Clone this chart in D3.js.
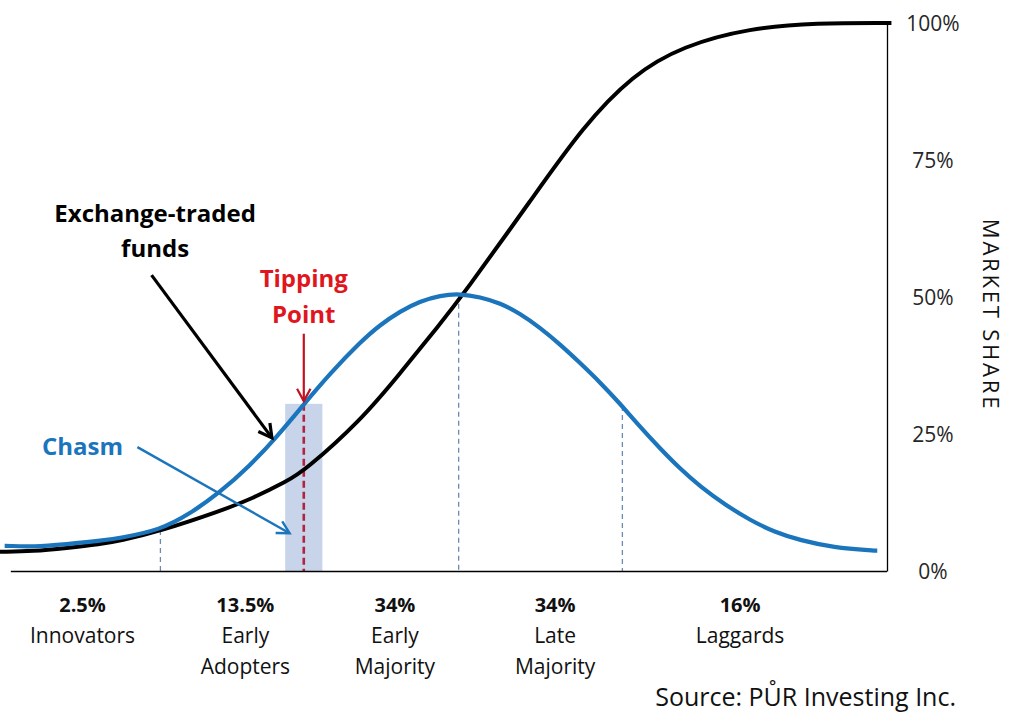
<!DOCTYPE html>
<html><head><meta charset="utf-8">
<script src="https://cdn.jsdelivr.net/npm/d3@7"></script>
<style>
html,body{margin:0;padding:0;background:#fff;}
svg{display:block;font-family:"Open Sans",Lato,sans-serif;}
</style></head>
<body>
<svg id="chart" width="1024" height="723"></svg>
<script>
// ---- data ----
// S-curve (cumulative market share, %) vs time (0..100)
const adoptionT = [-0.5, 0, 3.5, 7.3, 11.1, 13.3, 17.9, 24.6, 28.4, 32.2, 34.1, 40.5, 45.0, 49.5, 52.0, 60.0, 65.6, 71.3, 76.9, 84.5, 92.1, 100, 100.5];
const adoptionV = [3.5, 3.5, 3.6, 4.2, 4.9, 5.5, 7.3, 10.9, 13.3, 16.4, 18.2, 27.4, 36.1, 45.1, 50.2, 68.2, 81.0, 90.6, 95.8, 99.1, 100, 100, 100];
// Bell curve (adopters, %)
const bellT = [0.3, 0.6, 3.5, 7.3, 11.1, 13.3, 17.9, 21.2, 24.6, 28.0, 30.9, 34.1, 37.1, 40.5, 42.7, 45.0, 47.2, 49.5, 51.8, 54.0, 56.3, 58.5, 60.8, 63.1, 65.3, 67.6, 69.8, 72.1, 74.4, 76.6, 78.9, 81.7, 84.5, 87.3, 90.2, 93.9, 98.6, 98.9];
const bellV = [4.6, 4.6, 4.4, 4.9, 5.5, 6.0, 7.5, 10.4, 14.3, 19.2, 24.2, 30.4, 36.1, 41.8, 44.9, 47.4, 49.2, 50.3, 50.6, 50.0, 48.9, 47.0, 44.4, 41.3, 38.0, 34.4, 30.6, 26.3, 22.3, 18.7, 15.4, 12.1, 9.3, 7.1, 5.6, 4.3, 3.7, 3.7];
// segment dividers (time) and their heights on bell curve
const dividerT = [17.9, 51.6, 70.1];
const dividerV = [7.5, 50.4, 30.1];
// categories
const catShare = ["2.5%", "13.5%", "34%", "34%", "16%"];
const catName = [["Innovators"], ["Early", "Adopters"], ["Early", "Majority"], ["Late", "Majority"], ["Laggards"]];
const catCenterT = [9.1, 27.5, 44.4, 62.5, 83.4];
// y-axis ticks
const yTicks = [0, 25, 50, 75, 100];
// chasm / tipping point
const chasm = {t0: 32.0, t1: 36.2, top: 30.5};
const tippingT = 34.1;

// ---- scales ----
const svg = d3.select("#chart");
const x = d3.scaleLinear().domain([0, 100]).range([2, 887]);
const y = d3.scaleLinear().domain([0, 100]).range([571, 23]);

const BLUE = "#1b75bc";
const FONT = "'Open Sans', Lato, sans-serif";

// chasm band
svg.append("rect")
  .attr("x", x(chasm.t0)).attr("width", x(chasm.t1) - x(chasm.t0))
  .attr("y", y(chasm.top)).attr("height", y(0) - y(chasm.top))
  .attr("fill", "#c7d4e9");

// divider dashed lines
svg.selectAll("line.div").data(dividerT).join("line")
  .attr("class", "div")
  .attr("x1", d => x(d)).attr("x2", d => x(d))
  .attr("y1", (d, i) => y(dividerV[i])).attr("y2", y(0))
  .attr("stroke", "#6b8bb0").attr("stroke-width", 1.3)
  .attr("stroke-dasharray", "5,4");

// tipping point dashed line
svg.append("line")
  .attr("x1", x(tippingT)).attr("x2", x(tippingT))
  .attr("y1", y(chasm.top)).attr("y2", y(0))
  .attr("stroke", "#b3233f").attr("stroke-width", 2.6)
  .attr("stroke-dasharray", "7,4");

// axes
const baseline = d3.axisBottom(x).tickValues([]).tickSizeOuter(0);
svg.append("g").attr("transform", `translate(0,${y(0)})`).call(baseline)
  .call(g => g.select(".domain").attr("d", `M${x(1)},0.5H${x(100)}`).attr("stroke", "#000").attr("stroke-width", 1.3));

const rightAxis = d3.axisRight(y).tickValues(yTicks).tickSize(0).tickSizeOuter(0)
  .tickFormat(d => d + "%");
svg.append("g").attr("transform", `translate(${x(100)},0)`).call(rightAxis)
  .call(g => g.select(".domain").attr("stroke", "#000").attr("stroke-width", 1.3))
  .call(g => g.selectAll("text")
    .attr("x", 46).attr("dy", "0.36em")
    .attr("text-anchor", "middle")
    .attr("font-family", FONT)
    .attr("font-size", 21).attr("fill", "#262626"));

// curves (clip to x range of data)
const curveLine = d3.line().x(d => x(d[0])).y(d => y(d[1])).curve(d3.curveBasis);
svg.append("path")
  .datum(d3.zip(adoptionT, adoptionV))
  .attr("d", curveLine)
  .attr("fill", "none").attr("stroke", "#000").attr("stroke-width", 4);

svg.append("path")
  .datum(d3.zip(bellT, bellV))
  .attr("d", curveLine)
  .attr("fill", "none").attr("stroke", BLUE).attr("stroke-width", 4.2);

// arrows
function arrow(t0, v0, t1, v1, color, width, head) {
  const x0 = x(t0), y0 = y(v0), x1 = x(t1), y1 = y(v1);
  const a = Math.atan2(y1 - y0, x1 - x0);
  const sp = 0.5;
  svg.append("line").attr("x1", x0).attr("y1", y0).attr("x2", x1).attr("y2", y1)
    .attr("stroke", color).attr("stroke-width", width);
  const p = d3.path();
  p.moveTo(x1 - head * Math.cos(a - sp), y1 - head * Math.sin(a - sp));
  p.lineTo(x1, y1);
  p.lineTo(x1 - head * Math.cos(a + sp), y1 - head * Math.sin(a + sp));
  svg.append("path").attr("d", p.toString()).attr("fill", "none")
    .attr("stroke", color).attr("stroke-width", width).attr("stroke-linejoin", "miter");
}
arrow(16.9, 54.0, 30.5, 24.3, "#000", 3.2, 15);
arrow(15.3, 22.6, 32.5, 6.9, BLUE, 2.4, 14);
arrow(tippingT, 43.3, tippingT, 31.0, "#c0121f", 2.2, 14);

// annotation texts
function label(lines, tx, tv, color, size, weight, lh) {
  const t = svg.append("text").attr("text-anchor", "middle")
    .attr("font-size", size).attr("font-weight", weight).attr("fill", color)
    .attr("font-family", FONT);
  lines.forEach((s, i) => t.append("tspan").attr("x", x(tx)).attr("y", y(tv) + i * lh).text(s));
  return t;
}
label(["Exchange-traded", "funds"], 17.3, 63.7, "#000", 24, 700, 35);
label(["Tipping", "Point"], tippingT, 51.8, "#e0161e", 24, 700, 36);
label(["Chasm"], 9.1, 21.1, BLUE, 24, 700, 0);

// category labels
catShare.forEach((s, i) => {
  const t = svg.append("text").attr("text-anchor", "middle")
    .attr("font-family", FONT).attr("fill", "#111");
  t.append("tspan").attr("x", x(catCenterT[i])).attr("y", 612)
    .attr("font-weight", 700).attr("font-size", 20).text(s);
  catName[i].forEach((n, j) => t.append("tspan").attr("x", x(catCenterT[i])).attr("y", 643 + j * 31)
    .attr("font-size", 21).text(n));
});

// market share title
svg.append("text")
  .attr("transform", "translate(983,315) rotate(90)")
  .attr("text-anchor", "middle")
  .attr("font-family", FONT)
  .attr("font-size", 22).attr("letter-spacing", 2.8).attr("fill", "#111")
  .text("MARKET SHARE");

// source
svg.append("text").attr("x", 956).attr("y", 706).attr("text-anchor", "end")
  .attr("font-family", FONT)
  .attr("font-size", 25).attr("fill", "#111")
  .text("Source: PŮR Investing Inc.");
</script>
</body></html>
